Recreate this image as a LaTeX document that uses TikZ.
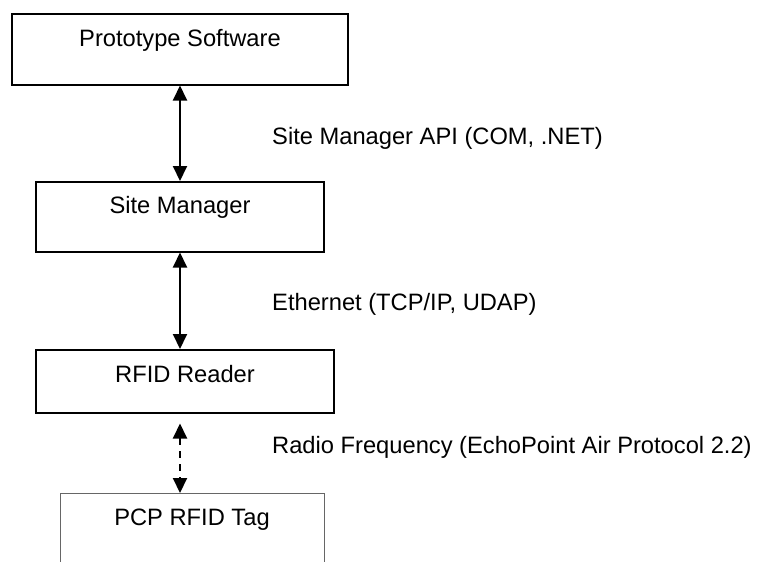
\documentclass[tikz,border=0pt]{standalone}
\usepackage{fontspec}
\setmainfont{Liberation Sans}
\usetikzlibrary{arrows.meta}
\begin{document}
\begin{tikzpicture}[x=1pt,y=-1pt,
  box/.style={draw,line width=1.5pt,inner sep=0pt,anchor=north,font=\fontsize{23.7}{28}\selectfont},
  lbl/.style={anchor=base west,inner sep=0pt,font=\fontsize{23.7}{28}\selectfont},
  link/.style={line width=2pt,{Triangle[width=14pt,length=15pt]}-{Triangle[width=14pt,length=15pt]}}]
\clip (0,0) rectangle (758,562);
\node[box,minimum width=336pt,text height=33pt,text depth=38pt] (proto) at (180,13) {Prototype Software};
\node[box,minimum width=288pt,text height=32pt,text depth=38pt] (site) at (180,181) {Site Manager};
\node[box,minimum width=298pt,text height=33pt,text depth=30pt] (reader) at (185,349) {RFID Reader};
\node[box,draw=black!60,line width=1pt,minimum width=264pt,text height=32pt,text depth=80pt] (tag) at (192,493) {PCP RFID Tag};
\draw[link] (proto.south) -- (site.north);
\draw[link] (site.south) -- (site.south |- reader.north);
\draw[link,dash pattern=on 7pt off 6pt,shorten <=10pt] (site.south |- reader.south) -- (site.south |- tag.north);
\node[lbl] (apilbl) at (272,144) {Site Manager API (COM, .NET)};
\node[lbl] (etherlbl) at (272,310) {Ethernet (TCP/IP, UDAP)};
\node[lbl] (radiolbl) at (272,453) {Radio Frequency (EchoPoint Air Protocol 2.2)};
\end{tikzpicture}
\end{document}
